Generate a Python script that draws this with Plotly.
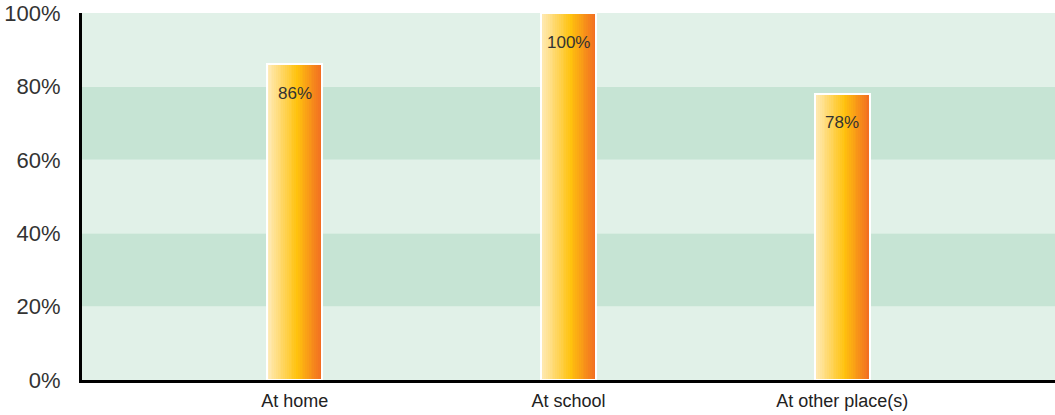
import plotly.graph_objects as go

categories = ["At home", "At school", "At other place(s)"]
values = [86, 100, 78]
labels = ["86%", "100%", "78%"]
tick_vals = [0, 20, 40, 60, 80, 100]
tick_text = ["0%", "20%", "40%", "60%", "80%", "100%"]

FONT = "Liberation Sans, Arial, sans-serif"
BAR_W = 0.2
N = 30

def lerp(c1, c2, t):
    return tuple(int(round(a + (b - a) * t)) for a, b in zip(c1, c2))

stops = [(0.0, (255, 236, 190)), (0.55, (255, 194, 14)), (1.0, (242, 108, 34))]

def grad(t):
    for (t0, c0), (t1, c1) in zip(stops[:-1], stops[1:]):
        if t <= t1:
            return lerp(c0, c1, (t - t0) / (t1 - t0))
    return stops[-1][1]

fig = go.Figure()
for i in range(N):
    c = grad((i + 0.5) / N)
    fig.add_trace(go.Bar(
        x=categories, y=values,
        width=BAR_W / N * 1.05, offset=-BAR_W / 2 + i * BAR_W / N,
        marker=dict(color="rgb(%d,%d,%d)" % c, line=dict(width=0)),
        showlegend=False, hoverinfo="skip",
    ))

fig.add_trace(go.Bar(
    x=categories, y=values, width=BAR_W, offset=-BAR_W / 2,
    marker=dict(color="rgba(0,0,0,0)", line=dict(color="white", width=2)),
    showlegend=False, cliponaxis=False,
))

for cat, v, lab in zip(categories, values, labels):
    fig.add_annotation(x=cat, y=v, text=lab, showarrow=False,
                       yanchor="middle", yshift=-29,
                       font=dict(color="#333333", size=17, family=FONT))

band_colors = ["#e1f1e8", "#c6e4d4"]
for k in range(5):
    fig.add_shape(type="rect", xref="paper", yref="y", x0=0, x1=1,
                  y0=tick_vals[k], y1=tick_vals[k + 1],
                  fillcolor=band_colors[k % 2], line=dict(width=0), layer="below")

fig.update_layout(
    width=1055, height=415,
    margin=dict(l=82, r=0, t=13, b=35),
    paper_bgcolor="white", plot_bgcolor="white",
    barmode="overlay", bargap=0,
    font=dict(family=FONT, color="#333333"),
)
fig.update_xaxes(
    range=[-0.777, 2.777], showgrid=False, ticks="", automargin=False,
    showline=True, linecolor="black", linewidth=3,
    ticklabelstandoff=2,
    tickfont=dict(size=18, color="#222222"),
)
fig.update_yaxes(
    range=[0, 100], tickvals=tick_vals, ticktext=tick_text,
    showgrid=False, zeroline=False, ticks="", automargin=False,
    showline=True, linecolor="black", linewidth=3,
    ticklabelstandoff=14, ticklabeloverflow="allow",
    tickfont=dict(size=22, color="#333333"),
)
fig.write_html("out.html", config={"displayModeBar": False},
               post_script="document.body.style.margin='0';")
